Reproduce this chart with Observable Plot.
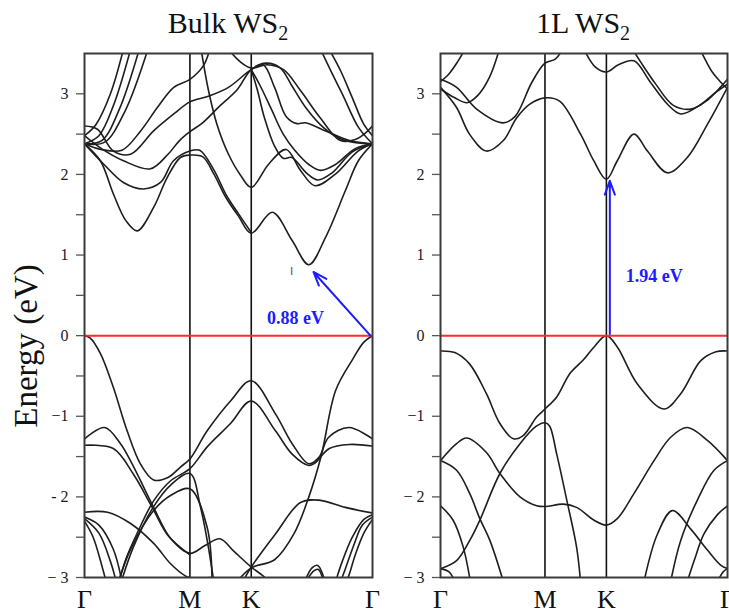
<!DOCTYPE html>
<html><head><meta charset="utf-8">
<script src="https://cdn.jsdelivr.net/npm/d3@7"></script>
<script src="https://cdn.jsdelivr.net/npm/@observablehq/plot@0.6"></script>
<style>
body{margin:0;background:#fff;}
#wrap{position:relative;width:729px;height:614px;overflow:hidden;font-family:"Liberation Serif",serif;color:#111;background:#fff;}
.title{position:absolute;top:8px;font-size:30px;line-height:30px;transform:translateX(-50%);white-space:nowrap;z-index:3;}
.title sub{font-size:20px;vertical-align:-7px;line-height:0;}
#ylab{position:absolute;left:26px;top:346px;font-size:33px;line-height:33px;transform:translate(-50%,-50%) rotate(-90deg);white-space:nowrap;z-index:3;}
.panel{position:absolute;top:40px;z-index:1;}
</style></head>
<body><div id="wrap">
<div class="title" style="left:228px">Bulk WS<sub>2</sub></div>
<div class="title" style="left:583px">1L WS<sub>2</sub></div>
<div id="ylab">Energy (eV)</div>
<div class="panel" id="left" style="left:0px"></div>
<div class="panel" id="right" style="left:380px"></div>
</div>
<script>
// ---- tick positions and labels ----
const kLabels = ["Γ", "M", "K", "Γ"];
const bulkKTicks = [0, 0.366, 0.579, 1];
const monoKTicks = [0, 0.364, 0.578, 1];
const yMajor = [-3, -2, -1, 0, 1, 2, 3];
const yMinor = [-2.5, -1.5, -0.5, 0.5, 1.5, 2.5];
const bulkYLabels = ["− 3", "- 2", "−1", "0", "1", "2", "3"];
const monoYLabels = ["− 3", "− 2", "−1", "0", "1", "2", "3"];

// ---- Bulk WS2 conduction bands [k, E] ----
const bulkConduction = [
  [[0,2.38],[0.055,2.17],[0.10,1.76],[0.143,1.43],[0.183,1.30],[0.24,1.59],[0.287,1.96],[0.333,2.21],[0.366,2.24],[0.41,2.22],[0.45,2.0],[0.49,1.72],[0.535,1.48],[0.579,1.27],[0.652,1.53],[0.721,1.18],[0.779,0.88],[0.837,1.22],[0.906,1.80],[0.951,2.17],[1,2.38]],
  [[0,2.38],[0.066,2.13],[0.135,1.90],[0.205,1.82],[0.264,1.90],[0.309,2.17],[0.366,2.29],[0.40,2.30],[0.45,2.05],[0.49,1.76],[0.535,1.51],[0.579,1.28]],
  [[0.405,3.55],[0.43,3.05],[0.46,2.62],[0.50,2.25],[0.54,2.0],[0.579,1.84],[0.64,2.13],[0.70,2.31],[0.75,2.05],[0.80,1.86],[0.87,2.0],[0.95,2.29],[1,2.38]],
  [[0.579,3.30],[0.60,3.05],[0.625,2.7],[0.66,2.35],[0.69,2.2],[0.72,2.21],[0.77,2.02],[0.81,1.93],[0.86,2.02],[0.93,2.28],[1,2.38]],
  [[0.579,3.30],[0.61,3.1],[0.65,2.8],[0.69,2.5],[0.73,2.3],[0.78,2.12],[0.82,2.05],[0.87,2.12],[0.94,2.32],[1,2.38]],
  [[0,2.48],[0.055,2.33],[0.135,2.17],[0.229,2.07],[0.29,2.25],[0.33,2.42],[0.366,2.53],[0.41,2.64],[0.47,2.85],[0.53,3.05],[0.579,3.30],[0.63,3.38],[0.68,3.32],[0.72,3.1],[0.77,2.82],[0.83,2.58],[0.89,2.44],[0.95,2.39],[1,2.38]],
  [[0,2.60],[0.045,2.56],[0.10,2.29],[0.16,2.25],[0.24,2.54],[0.31,2.75],[0.366,2.90],[0.43,2.97],[0.50,3.08],[0.579,3.30],[0.62,3.36],[0.66,3.08],[0.70,2.72],[0.738,2.63],[0.767,2.64],[0.837,2.54],[0.92,2.42],[1,2.38]],
  [[0,2.38],[0.057,2.31],[0.13,2.30],[0.195,2.54],[0.253,2.83],[0.31,3.08],[0.366,3.18],[0.413,3.35],[0.435,3.55]],
  [[0.50,3.55],[0.54,3.40],[0.579,3.32],[0.634,3.36],[0.691,3.30],[0.75,3.04],[0.819,2.70],[0.889,2.42],[0.95,2.45],[1,2.60]],
  [[0,2.48],[0.04,2.62],[0.09,3.0],[0.135,3.55]],
  [[0,2.38],[0.05,2.48],[0.10,2.85],[0.16,3.55]],
  [[0,2.38],[0.06,2.42],[0.12,2.8],[0.19,3.55]],
  [[0,2.38],[0.07,2.40],[0.14,2.78],[0.22,3.55]],
  [[0.82,3.55],[0.86,3.25],[0.895,3.0],[0.952,2.58],[1,2.38]],
  [[0.85,3.55],[0.89,3.28],[0.93,2.95],[0.97,2.62],[1,2.48]]
];

// ---- Bulk WS2 valence bands [k, E] ----
const bulkValence = [
  [[0,0],[0.02,-0.03],[0.055,-0.22],[0.10,-0.64],[0.148,-1.18],[0.194,-1.59],[0.24,-1.79],[0.29,-1.76],[0.333,-1.63],[0.366,-1.53],[0.426,-1.18],[0.507,-0.81],[0.579,-0.56],[0.663,-0.97],[0.721,-1.34],[0.779,-1.59],[0.814,-1.51],[0.848,-1.26],[0.918,-1.14],[1,-1.28]],
  [[0.12,-3.05],[0.146,-2.75],[0.183,-2.45],[0.24,-2.05],[0.299,-1.80],[0.366,-1.65],[0.426,-1.38],[0.507,-1.09],[0.579,-0.81],[0.663,-1.18],[0.721,-1.47],[0.779,-1.61],[0.80,-1.58],[0.85,-1.40],[0.92,-1.35],[1,-1.37]],
  [[0,-1.28],[0.07,-1.14],[0.125,-1.34],[0.171,-1.63],[0.24,-2.13],[0.30,-2.52],[0.366,-2.70],[0.42,-2.60],[0.47,-2.52],[0.52,-2.68],[0.579,-2.87],[0.62,-2.98],[0.64,-3.05]],
  [[0,-1.36],[0.10,-1.40],[0.17,-1.72],[0.235,-2.13],[0.29,-2.48],[0.366,-2.72]],
  [[0.118,-3.05],[0.16,-2.65],[0.24,-2.17],[0.30,-1.98],[0.366,-1.90],[0.426,-2.38],[0.443,-3.05]],
  [[0.128,-3.05],[0.17,-2.62],[0.24,-2.12],[0.30,-1.85],[0.366,-1.71],[0.403,-2.13],[0.449,-3.05]],
  [[0,-2.19],[0.08,-2.19],[0.16,-2.33],[0.241,-2.58],[0.299,-2.83],[0.35,-2.98],[0.366,-3.0],[0.44,-3.0]],
  [[0,-2.25],[0.05,-2.35],[0.10,-2.65],[0.13,-3.05]],
  [[0,-2.27],[0.05,-2.45],[0.09,-2.8],[0.11,-3.05]],
  [[0,-2.30],[0.03,-2.5],[0.06,-2.85],[0.075,-3.05]],
  [[1,0],[0.97,-0.08],[0.93,-0.3],[0.872,-0.68],[0.822,-1.49],[0.779,-2.0],[0.727,-2.46],[0.66,-2.78],[0.579,-2.88],[0.53,-3.05]],
  [[0.55,-3.05],[0.579,-2.87],[0.663,-2.46],[0.75,-2.07],[0.814,-2.04],[0.906,-2.13],[1,-2.20]],
  [[0.765,-3.05],[0.79,-2.88],[0.81,-2.85],[0.835,-3.05]],
  [[0.77,-3.05],[0.795,-2.92],[0.812,-2.9],[0.83,-3.05]],
  [[1,-2.22],[0.97,-2.28],[0.93,-2.5],[0.895,-2.8],[0.872,-3.05]],
  [[1,-2.25],[0.965,-2.35],[0.935,-2.6],[0.905,-2.9],[0.889,-3.05]],
  [[1,-2.28],[0.97,-2.45],[0.94,-2.72],[0.915,-3.0],[0.906,-3.05]]
];

// ---- Monolayer WS2 conduction bands [k, E] ----
const monoConduction = [
  [[0,3.08],[0.056,2.83],[0.101,2.50],[0.16,2.29],[0.219,2.42],[0.265,2.70],[0.31,2.87],[0.364,2.95],[0.415,2.91],[0.488,2.50],[0.534,2.17],[0.578,1.94],[0.616,2.17],[0.674,2.50],[0.721,2.29],[0.791,2.02],[0.86,2.21],[0.93,2.62],[1,3.08]],
  [[0,3.18],[0.056,3.08],[0.126,2.81],[0.219,2.64],[0.26,2.72],[0.318,3.14],[0.364,3.38],[0.40,3.43],[0.425,3.55]],
  [[0,3.06],[0.05,2.95],[0.093,2.89],[0.13,2.98],[0.17,3.2],[0.205,3.55]],
  [[0,3.15],[0.03,3.25],[0.06,3.4],[0.085,3.55]],
  [[0.50,3.55],[0.54,3.33],[0.578,3.27],[0.62,3.36],[0.674,3.41],[0.73,3.15],[0.791,2.87],[0.837,2.75],[0.90,2.85],[0.96,3.02],[1,3.12]],
  [[0.67,3.55],[0.70,3.38],[0.75,3.12],[0.81,2.86],[0.872,2.81],[0.93,2.92],[0.975,3.08],[1,3.18]],
  [[0.905,3.55],[0.945,3.28],[0.975,3.15],[1,3.06]]
];

// ---- Monolayer WS2 valence bands [k, E] ----
const monoValence = [
  [[0,-0.19],[0.05,-0.21],[0.101,-0.35],[0.16,-0.72],[0.207,-1.09],[0.254,-1.28],[0.288,-1.24],[0.335,-1.01],[0.364,-0.91],[0.405,-0.76],[0.451,-0.47],[0.498,-0.30],[0.535,-0.14],[0.578,0],[0.616,-0.14],[0.686,-0.60],[0.779,-0.91],[0.837,-0.72],[0.907,-0.31],[0.96,-0.2],[1,-0.19]],
  [[0,-1.55],[0.056,-1.34],[0.091,-1.27],[0.16,-1.45],[0.207,-1.71],[0.277,-2.0],[0.335,-2.11],[0.364,-2.12],[0.428,-2.09],[0.474,-2.13],[0.535,-2.29],[0.578,-2.35],[0.616,-2.27],[0.674,-1.96],[0.744,-1.55],[0.802,-1.26],[0.86,-1.14],[0.93,-1.30],[1,-1.55]],
  [[0,-2.89],[0.056,-2.79],[0.102,-2.54],[0.137,-2.29],[0.207,-1.71],[0.277,-1.34],[0.335,-1.12],[0.364,-1.08],[0.38,-1.12],[0.405,-1.47],[0.44,-2.04],[0.474,-2.62],[0.488,-3.05]],
  [[0,-1.55],[0.056,-1.67],[0.102,-1.96],[0.137,-2.27],[0.172,-2.54],[0.219,-3.05]],
  [[0,-2.11],[0.044,-2.29],[0.079,-2.62],[0.104,-3.05]],
  [[0,-2.89],[0.03,-2.93],[0.05,-3.05]],
  [[1,-1.55],[0.953,-1.67],[0.895,-2.04],[0.837,-2.54],[0.802,-3.05]],
  [[1,-2.11],[0.965,-2.22],[0.918,-2.46],[0.884,-2.79],[0.86,-3.05]],
  [[0.709,-3.05],[0.756,-2.46],[0.808,-2.17],[0.872,-2.40],[0.93,-2.66],[0.977,-2.85],[1,-2.89]],
  [[0.965,-3.05],[0.985,-2.93],[1,-2.89]]
];

// ---- annotations ----
const bulkGapArrow = [{k1: 0.993, e1: 0, k2: 0.795, e2: 0.79}];
const bulkGapLabel = [{k: 0.733, e: 0.21, text: "0.88 eV"}];
const bulkMarker = [{k: 0.719, e: 0.79, text: "I"}];
const monoGapArrow = [{k1: 0.59, e1: 0.02, k2: 0.59, e2: 1.92}];
const monoGapLabel = [{k: 0.745, e: 0.74, text: "1.94 eV"}];
const fermiLevel = [0];

const blue = "#1c1cff";

function panel(opts) {
  const rows = [...opts.conduction, ...opts.valence].flatMap((b, i) => b.map(([k, e]) => ({band: i, k, e})));
  return Plot.plot({
    width: opts.width, height: 574,
    marginLeft: opts.marginLeft, marginRight: opts.marginRight, marginTop: 13, marginBottom: 37,
    style: {fontFamily: "'Liberation Serif', serif", background: "transparent", color: "#111", overflow: "visible"},
    x: {domain: [0, 1], label: null},
    y: {domain: [-3, 3.5], label: null},
    marks: [
      Plot.ruleX(opts.kTicks.slice(1, 3), {stroke: "#111", strokeWidth: 1.6}),
      Plot.line(rows, {x: "k", y: "e", z: "band", curve: "catmull-rom", stroke: "#1e1e1e", strokeWidth: 1.6, clip: true}),
      Plot.ruleY(fermiLevel, {stroke: "#ff2b2b", strokeWidth: 2}),
      Plot.arrow(opts.arrow, {x1: "k1", y1: "e1", x2: "k2", y2: "e2", stroke: blue, strokeWidth: 2, headLength: 11, headAngle: 40}),
      Plot.text(opts.label, {x: "k", y: "e", text: "text", fill: blue, fontWeight: "bold", fontSize: 18}),
      ...(opts.marker ? [Plot.text(opts.marker, {x: "k", y: "e", text: "text", fill: "#555", fontSize: 11, fontFamily: "DejaVu Sans"})] : []),
      Plot.frame({stroke: "#3a3a3a", strokeWidth: 2}),
      Plot.axisY(yMajor, {tickSize: 8, tickPadding: 8, fontSize: 16, fill: "#1a1a1a", stroke: "#555", strokeWidth: 1.3, tickFormat: d => opts.yLabels[yMajor.indexOf(d)]}),
      Plot.axisY(yMinor, {tickSize: 8, stroke: "#555", strokeWidth: 1.3, tickFormat: () => ""}),
      Plot.axisX(opts.kTicks, {tickSize: 0, tickPadding: 12, fontSize: 26, fill: "#111", tickFormat: d => kLabels[opts.kTicks.indexOf(d)]})
    ]
  });
}

document.getElementById("left").append(panel({
  width: 380, marginLeft: 84, marginRight: 8,
  conduction: bulkConduction, valence: bulkValence,
  kTicks: bulkKTicks, yLabels: bulkYLabels,
  arrow: bulkGapArrow, label: bulkGapLabel, marker: bulkMarker
}));
document.getElementById("right").append(panel({
  width: 349, marginLeft: 60, marginRight: 2,
  conduction: monoConduction, valence: monoValence,
  kTicks: monoKTicks, yLabels: monoYLabels,
  arrow: monoGapArrow, label: monoGapLabel
}));
</script>
</body></html>
